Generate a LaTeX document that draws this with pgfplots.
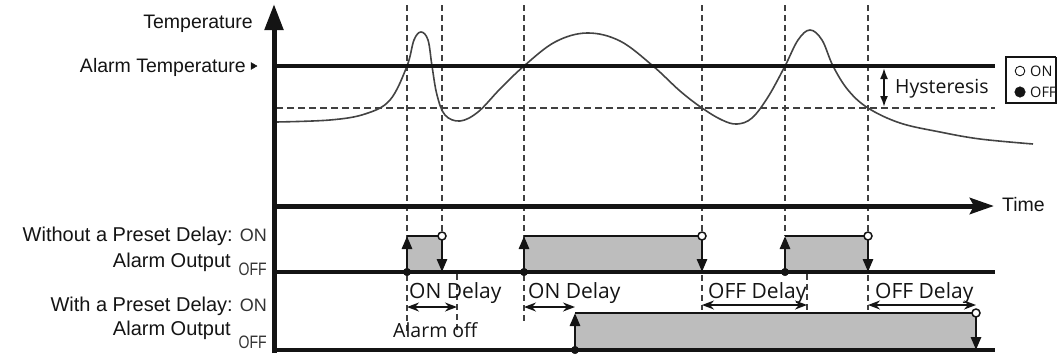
\documentclass[border=0pt]{standalone}
\usepackage{fontspec}
\setmainfont{Liberation Sans}
\newfontfamily\kfont{Open Sans}
\newfontfamily\narrowfont[FakeStretch=0.78]{Liberation Sans}
\usepackage{pgfplots}
\pgfplotsset{compat=1.18}
\usetikzlibrary{arrows.meta}

\definecolor{ink}{HTML}{141414}
\definecolor{dashc}{HTML}{404040}
\definecolor{pulse}{HTML}{BDBDBD}
\definecolor{onoffc}{HTML}{333333}

\tikzset{
  lab/.style={font=\fontsize{19.5}{22}\selectfont, inner sep=0pt, text=ink},
  lablow/.style={font=\fontsize{20}{22}\selectfont, inner sep=0pt, text=ink},
  onl/.style={font=\fontsize{18}{19}\selectfont, inner sep=0pt, text=onoffc},
  offl/.style={font=\narrowfont\fontsize{18}{19}\selectfont, inner sep=0pt, text=onoffc},
  ann/.style={font=\kfont\fontsize{21}{24}\selectfont, inner sep=0pt, text=ink},
  annS/.style={font=\kfont\fontsize{19.5}{22}\selectfont, inner sep=0pt, text=ink},
  leg/.style={font=\kfont\fontsize{14.5}{16}\selectfont, inner sep=0pt, text=ink},
  dashline/.style={dashc, line width=1.1pt, dash pattern=on 6pt off 4pt},
  dbl/.style={ink, line width=1.6pt, {Stealth[length=12pt,width=9pt]}-{Stealth[length=12pt,width=9pt]}},
  uparr/.style={ink, line width=2.8pt, -{Triangle[length=13pt,width=10pt]}},
}

\begin{document}
\begin{tikzpicture}
\begin{axis}[
  scale only axis, width=1057pt, height=354pt,
  xmin=0, xmax=1057, ymin=0, ymax=354, y dir=reverse,
  axis lines=none, ticks=none, clip=false,
]
\coordinate (BL) at (rel axis cs:0,0);
\coordinate (TR) at (rel axis cs:1,1);

% ---- pulse fills
\addplot[fill=pulse, draw=none] coordinates {(407,272)(407,236)(442,236)(442,272)};
\addplot[fill=pulse, draw=none] coordinates {(524,272)(524,236)(702,236)(702,272)};
\addplot[fill=pulse, draw=none] coordinates {(785,272)(785,236)(868,236)(868,272)};
\addplot[fill=pulse, draw=none] coordinates {(575,350)(575,313)(976,313)(976,350)};

% ---- dashed guide lines
\addplot[dashline] coordinates {(407,5)(407,334)};
\addplot[dashline] coordinates {(442,5)(442,236)};
\addplot[dashline] coordinates {(524,5)(524,323)};
\addplot[dashline] coordinates {(702,5)(702,310)};
\addplot[dashline] coordinates {(785,5)(785,236)};
\addplot[dashline] coordinates {(868,5)(868,310)};
\addplot[dashline] coordinates {(457,274)(457,334)};
\addplot[dashline] coordinates {(807,274)(807,310)};
\addplot[dashc, line width=1.3pt, dash pattern=on 7pt off 4pt] coordinates {(276,108)(995,108)};

% ---- temperature curve
\addplot[smooth, tension=0.6, ink!80, line width=1.6pt] coordinates {
(276,122)(330,120)(365,114)(390,100)(407,66)(414,40)(421,32)(428,40)(432,66)
(437,95)(445,115)(460,121)(478,112)(500,89)(524,66)(555,42)(587,33)(620,41)
(653,66)(680,91)(702,108)(722,120)(737,124)(752,118)(768,97)(785,66)(798,40)
(810,30)(822,40)(833,66)(848,90)(868,108)(900,123)(940,132)(980,139)(1033,144)};

% ---- solid lines
\addplot[ink, line width=3.5pt] coordinates {(274,66)(995,66)};
\addplot[ink, line width=3.5pt] coordinates {(274,272)(995,272)};
\addplot[ink, line width=3.5pt] coordinates {(274,350)(995,350)};
\addplot[ink, line width=2.8pt] coordinates {(407,236)(442,236)};
\addplot[ink, line width=2.8pt] coordinates {(524,236)(702,236)};
\addplot[ink, line width=2.8pt] coordinates {(785,236)(868,236)};
\addplot[ink, line width=2.8pt] coordinates {(575,313)(976,313)};

% ---- main axes
\addplot[ink, line width=5pt, -{Triangle[length=26pt,width=18pt]}] coordinates {(274,353)(274,4)};
\addplot[ink, line width=5pt, -{Stealth[length=24pt,width=16pt,inset=4pt]}] coordinates {(272,206)(994,206)};

% ---- up / down arrows
\addplot[uparr] coordinates {(407,272)(407,236)};
\addplot[uparr] coordinates {(524,272)(524,236)};
\addplot[uparr] coordinates {(785,272)(785,236)};
\addplot[uparr] coordinates {(575,350)(575,313)};
\addplot[uparr] coordinates {(442,240)(442,272)};
\addplot[uparr] coordinates {(702,240)(702,272)};
\addplot[uparr] coordinates {(868,240)(868,272)};
\addplot[uparr] coordinates {(976,317)(976,350)};

% ---- state marks
\addplot[only marks, mark=*, mark size=3.8pt, ink] coordinates {(407,272)(524,272)(785,272)(575,350)};
\addplot[only marks, mark=*, mark size=4pt, mark options={fill=white, draw=ink, line width=1.5pt}] coordinates {(442,236)(702,236)(868,236)(976,313)};

% ---- delay arrows
\addplot[dbl] coordinates {(407,307)(457,307)};
\addplot[dbl] coordinates {(524,307)(575,307)};
\addplot[dbl] coordinates {(702,305)(807,305)};
\addplot[dbl] coordinates {(868,305)(976,305)};
\addplot[ink, line width=1.8pt, {Latex[length=11pt,width=8pt]}-{Latex[length=11pt,width=8pt]}] coordinates {(884,68)(884,107)};

% ---- alarm temperature pointer
\addplot[only marks, mark=triangle*, mark size=4pt, mark options={rotate=-90, fill=ink, draw=ink}] coordinates {(253,66)};

% ---- legend box
\addplot[ink, line width=1.6pt] coordinates {(1056,57)(1006,57)(1006,103)(1056,103)(1056,57)};
\addplot[only marks, mark=*, mark size=4.8pt, mark options={fill=white, draw=ink, line width=0.9pt}] coordinates {(1020,71)};
\addplot[only marks, mark=*, mark size=5.3pt, ink] coordinates {(1020,92)};
\node[leg, anchor=base west] at (axis cs:1030,76) {ON};
\node[leg, anchor=base west] at (axis cs:1030,97) {OFF};

% ---- labels
\node[lab, anchor=base east] at (axis cs:253,28) {Temperature};
\node[lab, anchor=base east] at (axis cs:246,72) {Alarm Temperature};
\node[lab, anchor=base west] at (axis cs:1002,211) {Time};
\node[lablow, anchor=base east] at (axis cs:233,241) {Without a Preset Delay:};
\node[lablow, anchor=base east] at (axis cs:231,267) {Alarm Output};
\node[lablow, anchor=base east] at (axis cs:233,311) {With a Preset Delay:};
\node[lablow, anchor=base east] at (axis cs:231,335) {Alarm Output};
\node[onl, anchor=base east] at (axis cs:267,241) {ON};
\node[offl, anchor=base east] at (axis cs:267,275) {OFF};
\node[onl, anchor=base east] at (axis cs:267,311) {ON};
\node[offl, anchor=base east] at (axis cs:267,348) {OFF};

% ---- annotations
\node[ann, anchor=base west] at (axis cs:409,298) {ON Delay};
\node[ann, anchor=base west] at (axis cs:528,298) {ON Delay};
\node[ann, anchor=base west] at (axis cs:708,298) {OFF Delay};
\node[ann, anchor=base west] at (axis cs:875,298) {OFF Delay};
\node[annS, anchor=base west] at (axis cs:393,337) {Alarm off};
\node[annS, anchor=base west] at (axis cs:895,93) {Hysteresis};
\end{axis}
\pgfresetboundingbox
\path[use as bounding box] (BL) rectangle (TR);
\end{tikzpicture}
\end{document}
